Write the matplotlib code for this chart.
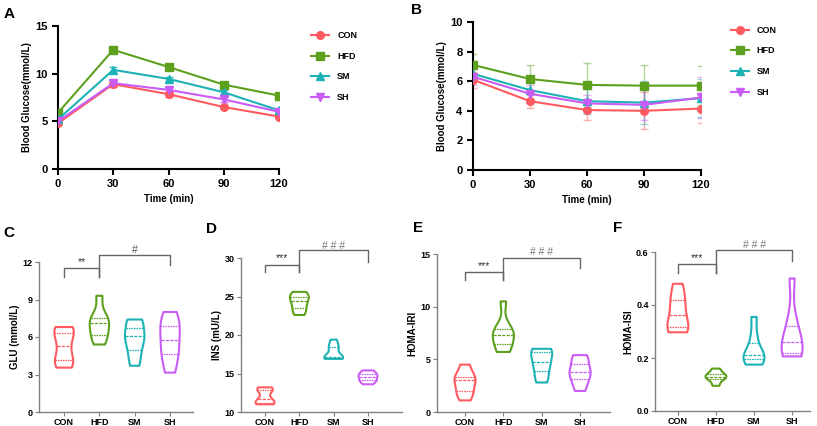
import matplotlib
matplotlib.use('Agg')
import matplotlib.pyplot as plt
import numpy as np
import pandas as pd
import seaborn as sns
from matplotlib.lines import Line2D

plt.rcParams['font.family'] = ['Liberation Sans', 'DejaVu Sans']
plt.rcParams['font.weight'] = 'bold'
plt.rcParams['axes.labelweight'] = 'bold'

groups = ['CON', 'HFD', 'SM', 'SH']
colors = ['#FF5A5F', '#5CA01E', '#1DB2B5', '#C85CF5']
markers = ['o', 's', '^', 'v']

time_min = [0, 30, 60, 90, 120]

# A: oral glucose tolerance (mean, sem)
ogtt_mean = {
    'CON': [4.8, 8.9, 7.85, 6.5, 5.5],
    'HFD': [5.9, 12.5, 10.7, 8.85, 7.7],
    'SM': [5.2, 10.4, 9.45, 8.05, 6.15],
    'SH': [5.0, 9.0, 8.3, 7.3, 6.0],
}
ogtt_err = {
    'CON': [0.15, 0.25, 0.25, 0.15, 0.15],
    'HFD': [0.15, 0.15, 0.15, 0.15, 0.15],
    'SM': [0.2, 0.35, 0.2, 0.2, 0.2],
    'SH': [0.15, 0.3, 0.25, 0.25, 0.2],
}

# B: insulin tolerance (mean, sd)
itt_mean = {
    'CON': [6.1, 4.65, 4.05, 4.0, 4.15],
    'HFD': [7.1, 6.15, 5.75, 5.7, 5.7],
    'SM': [6.5, 5.4, 4.65, 4.55, 4.85],
    'SH': [6.3, 5.15, 4.5, 4.4, 4.9],
}
itt_err = {
    'CON': [0.55, 0.45, 0.65, 1.25, 1.0],
    'HFD': [0.75, 0.95, 1.5, 1.4, 1.3],
    'SM': [0.5, 0.65, 0.85, 1.45, 1.3],
    'SH': [0.55, 0.6, 0.6, 1.0, 1.4],
}

# C-F: individual values per group
glu = {
    'CON': [3.55, 3.9, 4.4, 5.3, 6.1, 6.6, 6.8],
    'HFD': [5.4, 6.0, 6.4, 7.1, 7.3, 7.7, 9.3],
    'SM': [3.7, 4.6, 5.4, 6.05, 6.2, 7.2, 7.4],
    'SH': [3.15, 4.3, 5.0, 5.8, 6.6, 7.2, 8.0],
}
ins = {
    'CON': [11.0, 11.1, 11.3, 11.75, 12.7, 13.0, 13.2],
    'HFD': [22.6, 23.2, 23.8, 24.4, 24.8, 25.2, 25.6],
    'SM': [16.9, 17.0, 17.1, 17.2, 18.2, 18.6, 19.4],
    'SH': [13.6, 14.0, 14.2, 14.55, 14.8, 15.0, 15.4],
}
homa_iri = {
    'CON': [1.1, 1.8, 2.2, 3.0, 3.1, 3.6, 4.5],
    'HFD': [5.7, 6.1, 6.9, 7.35, 7.6, 8.1, 10.5],
    'SM': [2.8, 3.5, 4.3, 4.75, 5.4, 5.9, 6.0],
    'SH': [2.0, 2.8, 3.4, 3.8, 4.2, 5.0, 5.4],
}
homa_isi = {
    'CON': [0.297, 0.305, 0.327, 0.362, 0.40, 0.434, 0.48],
    'HFD': [0.095, 0.115, 0.125, 0.13, 0.134, 0.144, 0.16],
    'SM': [0.175, 0.19, 0.20, 0.21, 0.23, 0.282, 0.355],
    'SH': [0.206, 0.212, 0.226, 0.262, 0.29, 0.35, 0.50],
}

W, H = 817, 426
fig = plt.figure(figsize=(W / 100, H / 100), dpi=100)


def px_axes(left, right, top, bottom):
    return fig.add_axes([left / W, 1 - bottom / H, (right - left) / W, (bottom - top) / H])


def style_line_axes(ax):
    for s in ['top', 'right']:
        ax.spines[s].set_visible(False)
    for s in ['left', 'bottom']:
        ax.spines[s].set_linewidth(1.5)
    ax.tick_params(width=1.5, length=4, labelsize=8)


def line_panel(ax, means, errs, ylim, yticks, alpha_err, anchor):
    handles = []
    for g, c, m in zip(groups, colors, markers):
        ax.errorbar(time_min, means[g], yerr=errs[g], fmt='none', ecolor=c,
                    alpha=alpha_err, elinewidth=1, capsize=3, capthick=1, zorder=2)
        ax.plot(time_min, means[g], color=c, marker=m, markersize=5.5, lw=1.5, zorder=3)
        handles.append(Line2D([], [], color=c, marker=m, markersize=5.5, lw=1.5, label=g))
    ax.set_xlim(0, 120)
    ax.set_xticks(time_min)
    ax.set_ylim(*ylim)
    ax.set_yticks(yticks)
    ax.set_xlabel('Time (min)', fontsize=7, labelpad=3)
    ax.set_ylabel('Blood Glucose(mmol/L)', fontsize=7, labelpad=2)
    style_line_axes(ax)
    for sp in ['left', 'bottom']:
        ax.spines[sp].set_clip_on(False)
    leg = ax.legend(handles=handles, frameon=False, loc='upper left', bbox_to_anchor=anchor,
                    fontsize=6.5, handlelength=2.0, handletextpad=0.9, labelspacing=1.3,
                    borderaxespad=0, borderpad=0)
    for t in leg.get_texts():
        t.set_fontweight('bold')


axA = px_axes(58, 279, 26, 169)
line_panel(axA, ogtt_mean, ogtt_err, (0, 15), [0, 5, 10, 15], 0.9, (1.145, 0.965))
axB = px_axes(473, 701, 22, 170)
line_panel(axB, itt_mean, itt_err, (0, 10), [0, 2, 4, 6, 8, 10], 0.45, (1.13, 0.975))


def violin_panel(ax, values, ylim, yticks, ylabel, xlim, brackets):
    df = pd.DataFrame([(g, v) for g in groups for v in values[g]], columns=['group', 'value'])
    sns.violinplot(data=df, x='group', y='value', hue='group', order=groups, hue_order=groups,
                   palette=colors, fill=False, inner='quart', cut=0, density_norm='width',
                   width=0.55, linewidth=1.5, legend=False, ax=ax, bw_adjust=0.75,
                   inner_kws=dict(linewidth=0.9))
    ax.set_ylim(*ylim)
    ax.set_yticks(yticks)
    ax.set_xlim(*xlim)
    ax.set_xlabel('')
    ax.set_ylabel(ylabel, fontsize=7, labelpad=2)
    for s in ['top', 'right']:
        ax.spines[s].set_visible(False)
    for s in ['left', 'bottom']:
        ax.spines[s].set_color('#7f7f7f')
        ax.spines[s].set_linewidth(1)
    ax.tick_params(colors='#7f7f7f', labelcolor='black', length=3, labelsize=6.5, pad=1.5)
    for lab in ax.get_xticklabels() + ax.get_yticklabels():
        lab.set_fontweight('bold')
    # significance brackets: (x0, x1, top, left leg bottom, right leg bottom, text y, text, text colour)
    for x0, x1, top, lb, rb, ty, txt, tc in brackets:
        ax.plot([x0, x0, x1, x1], [lb, top, top, rb], color='#666666', lw=1, clip_on=False)
        ax.text((x0 + x1) / 2, ty, txt, ha='center', va='center', fontsize=7.5,
                color=tc, fontweight='normal', clip_on=False)


axC = px_axes(39, 193, 262, 412)
violin_panel(axC, glu, (0, 12), [0, 3, 6, 9, 12], 'GLU (mmol/L)', (-0.71, 3.65),
             [(0, 1, 11.5, 10.83, 10.83, 12.0, '**', '#333333'),
              (1, 3, 12.56, 10.83, 11.76, 12.96, '#', '#555555')])

axD = px_axes(241, 402, 258, 412)
violin_panel(axD, ins, (10, 30), [10, 15, 20, 25, 30], 'INS (mU/L)', (-0.7, 3.99),
             [(0, 1, 29.1, 28.14, 28.14, 29.96, '***', '#333333'),
              (1, 3, 31.04, 28.14, 29.5, 31.6, '# # #', '#777777')])

axE = px_axes(437, 610, 254, 412)
violin_panel(axE, homa_iri, (0, 15), [0, 5, 10, 15], 'HOMA-IRI', (-0.73, 3.78),
             [(0, 1, 13.32, 12.53, 12.53, 13.86, '***', '#333333'),
              (1, 3, 14.65, 12.53, 13.7, 15.2, '# # #', '#777777')])

axF = px_axes(655, 810, 252, 411)
violin_panel(axF, homa_isi, (0, 0.6), [0.0, 0.2, 0.4, 0.6], 'HOMA-ISI', (-0.6, 3.47),
             [(0, 1, 0.5535, 0.522, 0.522, 0.576, '***', '#333333'),
              (1, 3, 0.6075, 0.522, 0.566, 0.626, '# # #', '#777777')])
axF.set_yticklabels(['0.0', '0.2', '0.4', '0.6'], fontweight='bold')

# panel letters
for letter, x, y in [('A', 4, 14), ('B', 411, 10), ('C', 3, 233),
                     ('D', 206, 229), ('E', 413, 228), ('F', 613, 228)]:
    fig.text(x / W, 1 - y / H, letter, fontsize=11, fontweight='bold', va='center', ha='left')

fig.savefig('out.png', dpi=100)
